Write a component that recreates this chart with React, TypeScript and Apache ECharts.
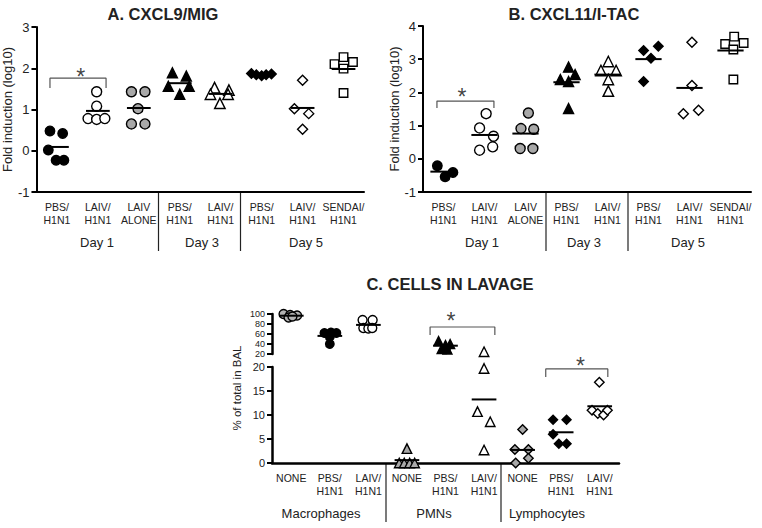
import React, { useEffect, useRef } from "react";
import * as echarts from "echarts";

const FONT = "'Liberation Sans', Arial, Helvetica, sans-serif";

// ---------- Panel A: CXCL9/MIG ----------
const aCategories = ["PBS/\nH1N1", "LAIV/\nH1N1", "LAIV\nALONE", "PBS/\nH1N1", "LAIV/\nH1N1", "PBS/\nH1N1", "LAIV/\nH1N1", "SENDAI/\nH1N1"];
const aD1Pbs = [0.48, 0.42, 0.02, -0.23, -0.23];
const aD1PbsJit = [-0.17, 0.14, -0.21, -0.02, 0.17];
const aD1Laiv = [1.43, 1.08, 0.78, 0.76, 0.78];
const aD1LaivJit = [-0.03, -0.03, -0.24, -0.03, 0.17];
const aD1Alone = [1.43, 1.43, 1.02, 0.65, 0.65];
const aD1AloneJit = [-0.18, 0.15, -0.02, -0.18, 0.15];
const aD3Pbs = [1.89, 1.81, 1.56, 1.56, 1.37];
const aD3PbsJit = [-0.18, 0.16, -0.28, 0.23, 0.0];
const aD3Laiv = [1.53, 1.47, 1.37, 1.37, 1.15];
const aD3LaivJit = [-0.15, 0.2, -0.25, 0.18, -0.02];
const aD5Pbs = [1.87, 1.84, 1.82, 1.84, 1.86];
const aD5PbsJit = [-0.25, -0.13, 0.0, 0.11, 0.24];
const aD5Laiv = [1.71, 1.02, 0.9, 0.52];
const aD5LaivJit = [0.0, -0.2, 0.15, 0.0];
const aD5Sendai = [2.1, 2.27, 2.15, 1.99, 1.4];
const aD5SendaiJit = [-0.22, 0.0, 0.23, 0.0, 0.0];
const aBracket = [[-0.17, 1.52], [-0.17, 1.76], [1.2, 1.76], [1.2, 1.52]];
const aStar = [0.58, 1.8];

// ---------- Panel B: CXCL11/I-TAC ----------
const bCategories = aCategories;
const bD1Pbs = [-0.21, -0.41, -0.54];
const bD1PbsJit = [-0.15, 0.23, 0.04];
const bD1Laiv = [1.36, 0.93, 0.68, 0.26, 0.36];
const bD1LaivJit = [0.04, -0.12, 0.22, -0.12, 0.2];
const bD1Alone = [1.38, 0.91, 0.89, 0.31, 0.31];
const bD1AloneJit = [0.07, -0.11, 0.2, -0.13, 0.18];
const bD3Pbs = [2.76, 2.54, 2.39, 2.33, 1.51];
const bD3PbsJit = [0.05, 0.21, -0.15, 0.05, 0.05];
const bD3Laiv = [2.93, 2.66, 2.66, 2.39, 2.04];
const bD3LaivJit = [0.02, -0.16, 0.21, 0.02, 0.02];
const bD5Pbs = [3.26, 3.39, 3.03, 2.33];
const bD5PbsJit = [-0.12, 0.24, 0.06, -0.12];
const bD5Laiv = [3.51, 2.21, 1.36, 1.46];
const bD5LaivJit = [0.06, 0.06, -0.15, 0.22];
const bD5Sendai = [3.46, 3.68, 3.49, 3.29, 2.39];
const bD5SendaiJit = [-0.13, 0.09, 0.32, 0.07, 0.07];
const bBracket = [[-0.16, 1.53], [-0.16, 1.74], [1.23, 1.74], [1.23, 1.53]];
const bStar = [0.45, 1.86];

// ---------- Panel C: Cells in lavage ----------
const cCategories = ["NONE", "PBS/\nH1N1", "LAIV/\nH1N1", "NONE", "PBS/\nH1N1", "LAIV/\nH1N1", "NONE", "PBS/\nH1N1", "LAIV/\nH1N1"];
const cMacNone = [100, 98, 97, 93, 95];
const cMacNoneJit = [-0.2, -0.03, 0.15, -0.07, 0.03];
const cMacPbs = [62, 63, 62, 54, 40];
const cMacPbsJit = [-0.14, 0.03, 0.17, 0.0, 0.0];
const cMacLaiv = [88, 88, 72, 71, 72];
const cMacLaivJit = [-0.15, 0.11, -0.13, 0.0, 0.1];
const cPmnNone = [3, 0, 0, 0, 0];
const cPmnNoneJit = [0.0, -0.2, -0.07, 0.07, 0.2];
const cPmnPbs = [46, 40, 38, 30, 29];
const cPmnPbsJit = [-0.18, 0.12, 0.0, -0.1, 0.05];
const cPmnLaiv = [24.5, 19.7, 10.7, 8.6, 2.7];
const cPmnLaivJit = [0.0, 0.0, -0.17, 0.16, 0.0];
const cLymNone = [7, 2.8, 2.8, 1, 0];
const cLymNoneJit = [0.0, -0.2, 0.15, 0.15, -0.18];
const cLymPbs = [9, 9, 6, 4, 4];
const cLymPbsJit = [-0.21, 0.14, -0.21, -0.06, 0.14];
const cLymLaiv = [16.8, 11, 10.3, 10, 11];
const cLymLaivJit = [-0.01, -0.2, -0.05, 0.1, 0.2];
const cPmnBracket = [[3.6, 58], [3.6, 74], [5.28, 74], [5.28, 58]];
const cPmnStar = [4.14, 86];
const cLymBracket = [[6.6, 17.9], [6.6, 19.6], [8.21, 19.6], [8.21, 17.9]];
const cLymStar = [7.5, 20.2];

// ---------- styles ----------
type Mk = { symbol: string; fill: string; size: number };
const BLACK = "#000";
const GRAY = "#a8a8a8";
const WHITE = "#fff";

const abMarkers: Mk[] = [
  { symbol: "circle", fill: BLACK, size: 9.5 },
  { symbol: "circle", fill: WHITE, size: 10 },
  { symbol: "circle", fill: GRAY, size: 10 },
  { symbol: "triangle", fill: BLACK, size: 10 },
  { symbol: "triangle", fill: WHITE, size: 10.5 },
  { symbol: "diamond", fill: BLACK, size: 9.5 },
  { symbol: "diamond", fill: WHITE, size: 10 },
  { symbol: "rect", fill: WHITE, size: 8.5 },
];
const cMarkers: Mk[] = [
  { symbol: "circle", fill: "#b3b3b3", size: 9 },
  { symbol: "circle", fill: BLACK, size: 8.5 },
  { symbol: "circle", fill: WHITE, size: 9 },
  { symbol: "triangle", fill: GRAY, size: 9.5 },
  { symbol: "triangle", fill: BLACK, size: 9 },
  { symbol: "triangle", fill: WHITE, size: 9.5 },
  { symbol: "diamond", fill: GRAY, size: 9.5 },
  { symbol: "diamond", fill: BLACK, size: 9 },
  { symbol: "diamond", fill: WHITE, size: 9.5 },
];

const mean = (v: number[]) => v.reduce((s, x) => s + x, 0) / v.length;

function scatterSeries(cat: number, vals: number[], jit: number[], mk: Mk, xi: number, yi: number) {
  return {
    type: "scatter",
    xAxisIndex: xi,
    yAxisIndex: yi,
    symbol: mk.symbol,
    symbolSize: mk.size,
    itemStyle: { color: mk.fill, borderColor: "#000", borderWidth: 1.4, opacity: 1 },
    data: vals.map((v, i) => [cat + jit[i], v]),
    z: 2,
    silent: true,
  };
}

function meanSeries(points: number[][], xi: number, yi: number, half = 0.3) {
  return {
    type: "custom",
    xAxisIndex: xi,
    yAxisIndex: yi,
    data: points,
    z: 4,
    silent: true,
    renderItem: (_p: any, api: any) => {
      const x = api.value(0);
      const y = api.value(1);
      const p0 = api.coord([x - half, y]);
      const p1 = api.coord([x + half, y]);
      return {
        type: "line",
        shape: { x1: p0[0], y1: p0[1], x2: p1[0], y2: p1[1] },
        style: { stroke: "#000", lineWidth: 2 },
      };
    },
  };
}

function bracketSeries(pts: number[][], xi: number, yi: number) {
  return {
    type: "line",
    xAxisIndex: xi,
    yAxisIndex: yi,
    data: pts,
    symbol: "none",
    lineStyle: { color: "#555", width: 1.2 },
    silent: true,
    z: 1,
  };
}

function starSeries(pt: number[], xi: number, yi: number) {
  return {
    type: "scatter",
    xAxisIndex: xi,
    yAxisIndex: yi,
    data: [pt],
    symbolSize: 0.1,
    clip: false,
    itemStyle: { color: "transparent" },
    label: { show: true, formatter: "*", position: "inside", fontSize: 23, color: "#111", fontFamily: FONT },
    silent: true,
  };
}

function catAxis(gridIndex: number, data: string[], lw: number) {
  return {
    type: "category",
    gridIndex,
    data,
    boundaryGap: true,
    position: "bottom",
    axisLine: { onZero: false, lineStyle: { color: "#000", width: lw } },
    axisTick: { alignWithLabel: true, length: 5, lineStyle: { color: "#000", width: 2 } },
    axisLabel: { interval: 0, margin: 9, fontSize: 10.5, lineHeight: 12.5, color: "#222", fontFamily: FONT },
    splitLine: { show: false },
  };
}

function valXAxis(gridIndex: number, min: number, max: number) {
  return { type: "value", gridIndex, min, max, show: false, axisLine: { onZero: false }, splitLine: { show: false } };
}

function valYAxis(gridIndex: number, min: number, max: number, interval: number, fs: number, lw: number, name?: string, nameGap?: number) {
  return {
    type: "value",
    gridIndex,
    min,
    max,
    interval,
    name: name || "",
    nameLocation: "middle",
    nameGap: nameGap || 0,
    nameRotate: 90,
    nameTextStyle: { fontSize: 13, fontFamily: FONT, color: "#222" },
    axisLine: { show: true, onZero: false, lineStyle: { color: "#000", width: lw } },
    axisTick: { show: true, length: 5, lineStyle: { color: "#000", width: 2 } },
    axisLabel: { fontSize: fs, margin: 7, color: "#222", fontFamily: FONT },
    splitLine: { show: false },
  };
}

function buildOption() {
  const series: any[] = [];

  // Panel A
  const aGroups = [
    [aD1Pbs, aD1PbsJit], [aD1Laiv, aD1LaivJit], [aD1Alone, aD1AloneJit], [aD3Pbs, aD3PbsJit],
    [aD3Laiv, aD3LaivJit], [aD5Pbs, aD5PbsJit], [aD5Laiv, aD5LaivJit], [aD5Sendai, aD5SendaiJit],
  ];
  aGroups.forEach(([v, j], i) => series.push(scatterSeries(i, v, j, abMarkers[i], 1, 0)));
  series.push(meanSeries(aGroups.map(([v], i) => [i, mean(v)]), 1, 0, 0.29));
  series.push(bracketSeries(aBracket, 1, 0));
  series.push(starSeries(aStar, 1, 0));

  // Panel B
  const bGroups = [
    [bD1Pbs, bD1PbsJit], [bD1Laiv, bD1LaivJit], [bD1Alone, bD1AloneJit], [bD3Pbs, bD3PbsJit],
    [bD3Laiv, bD3LaivJit], [bD5Pbs, bD5PbsJit], [bD5Laiv, bD5LaivJit], [bD5Sendai, bD5SendaiJit],
  ];
  bGroups.forEach(([v, j], i) => series.push(scatterSeries(i, v, j, abMarkers[i], 3, 1)));
  series.push(meanSeries(bGroups.map(([v], i) => [i, mean(v)]), 3, 1, 0.32));
  series.push(bracketSeries(bBracket, 3, 1));
  series.push(starSeries(bStar, 3, 1));

  // Panel C (broken axis: upper 20-100, lower 0-20)
  const cGroups = [
    [cMacNone, cMacNoneJit], [cMacPbs, cMacPbsJit], [cMacLaiv, cMacLaivJit],
    [cPmnNone, cPmnNoneJit], [cPmnPbs, cPmnPbsJit], [cPmnLaiv, cPmnLaivJit],
    [cLymNone, cLymNoneJit], [cLymPbs, cLymPbsJit], [cLymLaiv, cLymLaivJit],
  ];
  const upperMeans: number[][] = [];
  const lowerMeans: number[][] = [];
  cGroups.forEach(([v, j], i) => {
    const hiV: number[] = [], hiJ: number[] = [], loV: number[] = [], loJ: number[] = [];
    v.forEach((val, k) => {
      if (val > 20) { hiV.push(val); hiJ.push(j[k]); } else { loV.push(val); loJ.push(j[k]); }
    });
    if (hiV.length) series.push(scatterSeries(i, hiV, hiJ, cMarkers[i], 6, 3));
    if (loV.length) series.push(scatterSeries(i, loV, loJ, cMarkers[i], 5, 2));
    const m = mean(v);
    (m > 20 ? upperMeans : lowerMeans).push([i, m]);
  });
  series.push(meanSeries(upperMeans, 6, 3, 0.32));
  series.push(meanSeries(lowerMeans, 5, 2, 0.32));
  series.push(bracketSeries(cPmnBracket, 6, 3));
  series.push(starSeries(cPmnStar, 6, 3));
  series.push(bracketSeries(cLymBracket, 5, 2));
  series.push(starSeries(cLymStar, 5, 2));

  const txt = (text: string, x: number, y: number, font: string, rotation = 0) => ({
    type: "text",
    x,
    y,
    rotation,
    silent: true,
    style: { text, font, fill: "#222", textAlign: "center", textVerticalAlign: "middle" },
  });
  const sep = (x: number, y1: number, y2: number) => ({
    type: "line",
    silent: true,
    shape: { x1: x, y1, x2: x, y2 },
    style: { stroke: "#222", lineWidth: 1.2 },
  });
  const titleFont = `bold 16.5px ${FONT}`;
  const grpFont = `13px ${FONT}`;

  return {
    animation: false,
    backgroundColor: "#fff",
    textStyle: { fontFamily: FONT },
    grid: [
      { left: 35, top: 27, width: 329, height: 165 },
      { left: 423, top: 26, width: 328, height: 166 },
      { left: 272, top: 367, width: 347, height: 96 },
      { left: 272, top: 314, width: 347, height: 40 },
    ],
    xAxis: [
      catAxis(0, aCategories, 2),
      valXAxis(0, -0.5, 7.5),
      catAxis(1, bCategories, 2),
      valXAxis(1, -0.5, 7.5),
      catAxis(2, cCategories, 2.5),
      valXAxis(2, -0.5, 8.5),
      valXAxis(3, -0.5, 8.5),
    ],
    yAxis: [
      valYAxis(0, -1, 3, 1, 13, 2, "Fold induction (log10)", 17),
      valYAxis(1, -1, 4, 1, 13, 2, "Fold induction (log10)", 21),
      valYAxis(2, 0, 20, 5, 11, 2.5),
      valYAxis(3, 20, 100, 20, 9, 2.5),
    ],
    series,
    graphic: [
      txt("A. CXCL9/MIG", 163, 14, titleFont),
      txt("B. CXCL11/I-TAC", 574, 14, titleFont),
      txt("C. CELLS IN LAVAGE", 450, 284, titleFont),
      txt("Day 1", 97, 242, grpFont),
      txt("Day 3", 202, 242, grpFont),
      txt("Day 5", 306, 242, grpFont),
      txt("Day 1", 482, 242, grpFont),
      txt("Day 3", 584, 242, grpFont),
      txt("Day 5", 688, 242, grpFont),
      txt("Macrophages", 321, 513, grpFont),
      txt("PMNs", 434, 513, grpFont),
      txt("Lymphocytes", 547, 513, grpFont),
      txt("% of total in BAL", 237, 388, `11.5px ${FONT}`, Math.PI / 2),
      sep(158.5, 192, 251),
      sep(240.5, 192, 251),
      sep(546, 192, 251),
      sep(628, 192, 251),
      sep(386, 463, 522),
      sep(501, 463, 522),
    ],
  };
}

export default function App() {
  const ref = useRef<HTMLDivElement>(null);
  useEffect(() => {
    document.body.style.margin = "0";
    const chart = echarts.init(ref.current!, undefined, { renderer: "svg" });
    chart.setOption(buildOption() as any);
    return () => chart.dispose();
  }, []);
  return <div ref={ref} style={{ width: 762, height: 528 }} />;
}
